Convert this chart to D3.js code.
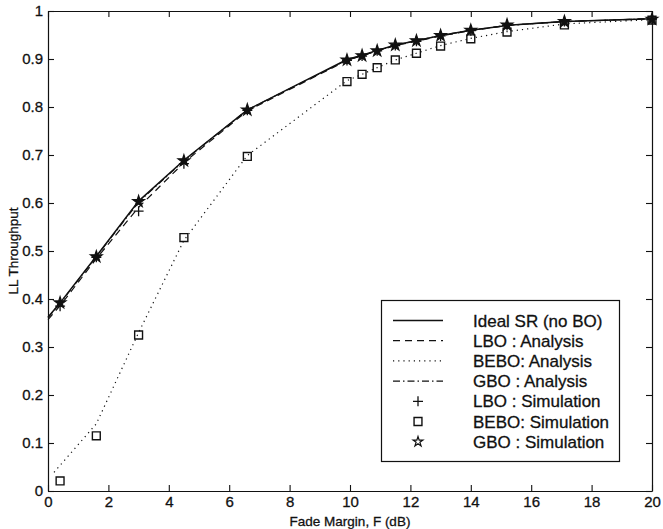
<!DOCTYPE html>
<html>
<head>
<meta charset="utf-8">
<script src="https://cdn.jsdelivr.net/npm/d3@7"></script>
<style>
  body { margin: 0; background: #fff; }
  text { font-family: "Liberation Sans", Arial, sans-serif; fill: #111; stroke: #111; stroke-width: 0.3px; }
</style>
</head>
<body>
<div id="chart"></div>
<script>
// LL throughput vs fade margin, analysis curves + simulation markers

// analysis curves (piecewise, same F grid as the sims plus F=0)
var idealF = [0, 0.4, 1.6, 3, 4.5, 6.6, 9.9, 10.4, 10.9, 11.5, 12.2, 13, 14, 15.2, 17.1, 20];
var idealT = [0.362, 0.392, 0.489, 0.604, 0.689, 0.794, 0.899, 0.908, 0.918, 0.929, 0.938, 0.949, 0.960, 0.970, 0.978, 0.984];

var lboF = [0, 0.4, 1.6, 3, 4.5, 6.6, 9.9, 10.4, 10.9, 11.5, 12.2, 13, 14, 15.2, 17.1, 20];
var lboT = [0.357, 0.386, 0.484, 0.591, 0.684, 0.792, 0.897, 0.907, 0.917, 0.928, 0.937, 0.948, 0.959, 0.970, 0.978, 0.984];

var beboF = [0.2, 1.6, 3, 4.5, 6.6, 9.9, 10.4, 10.9, 11.5, 12.2, 13, 14, 15.2, 17.1, 20];
var beboT = [0.039, 0.14, 0.33, 0.522, 0.699, 0.855, 0.868, 0.882, 0.898, 0.912, 0.928, 0.943, 0.957, 0.973, 0.982];

var gboF = [0, 0.4, 1.6, 3, 4.5, 6.6, 9.9, 10.4, 10.9, 11.5, 12.2, 13, 14, 15.2, 17.1, 20];
var gboT = [0.361, 0.391, 0.488, 0.602, 0.688, 0.794, 0.898, 0.907, 0.917, 0.929, 0.938, 0.949, 0.960, 0.970, 0.978, 0.984];

// simulation points
var simF = [0.4, 1.6, 3, 4.5, 6.6, 9.9, 10.4, 10.9, 11.5, 12.2, 13, 14, 15.2, 17.1, 20];
var lboSim = [0.385, 0.487, 0.583, 0.682, 0.793, 0.897, 0.906, 0.917, 0.928, 0.937, 0.948, 0.959, 0.970, 0.978, 0.983];
var beboSim = [0.021, 0.115, 0.325, 0.528, 0.697, 0.853, 0.868, 0.882, 0.898, 0.912, 0.927, 0.942, 0.956, 0.971, 0.981];
var gboSim = [0.392, 0.488, 0.603, 0.688, 0.794, 0.898, 0.907, 0.917, 0.929, 0.938, 0.949, 0.960, 0.971, 0.978, 0.983];

var xTicks = [0, 2, 4, 6, 8, 10, 12, 14, 16, 18, 20];
var yTicks = [0, 0.1, 0.2, 0.3, 0.4, 0.5, 0.6, 0.7, 0.8, 0.9, 1];

var legendLabels = ["Ideal SR (no BO)", "LBO : Analysis", "BEBO: Analysis", "GBO : Analysis",
                    "LBO : Simulation", "BEBO: Simulation", "GBO : Simulation"];

var width = 663, height = 529;
var margin = {left: 48, right: 11, top: 11, bottom: 38};

var svg = d3.select("#chart").append("svg")
    .attr("width", width)
    .attr("height", height);

var x = d3.scaleLinear().domain([0, 20]).range([margin.left, width - margin.right]);
var y = d3.scaleLinear().domain([0, 1]).range([height - margin.bottom, margin.top]);

var tickLen = 6;

// axes, MATLAB style: ticks pointing in on all four sides
svg.append("g")
    .attr("transform", "translate(0," + y(0) + ")")
    .call(d3.axisBottom(x).tickValues(xTicks).tickSizeInner(-tickLen).tickSizeOuter(0).tickPadding(5).tickFormat(d3.format("d")))
    .call(styleAxis);

svg.append("g")
    .attr("transform", "translate(0," + y(1) + ")")
    .call(d3.axisTop(x).tickValues(xTicks).tickSizeInner(-tickLen).tickSizeOuter(0).tickFormat(""))
    .call(styleAxis);

svg.append("g")
    .attr("transform", "translate(" + x(0) + ",0)")
    .call(d3.axisLeft(y).tickValues(yTicks).tickSizeInner(-tickLen).tickSizeOuter(0).tickPadding(5)
          .tickFormat(function(d) { return d === 0 || d === 1 ? d3.format("d")(d) : d3.format(".1f")(d); }))
    .call(styleAxis);

svg.append("g")
    .attr("transform", "translate(" + x(20) + ",0)")
    .call(d3.axisRight(y).tickValues(yTicks).tickSizeInner(-tickLen).tickSizeOuter(0).tickFormat(""))
    .call(styleAxis);

function styleAxis(g) {
    g.select(".domain").attr("stroke", "#111").attr("stroke-width", 1.2);
    g.selectAll(".tick line").attr("stroke", "#111").attr("stroke-width", 1.1);
    g.selectAll(".tick text").style("font-size", "15px").style("font-family", "Liberation Sans, Arial, sans-serif").attr("fill", "#111");
}

// axis labels
svg.append("text")
    .attr("x", (x(0) + x(20)) / 2)
    .attr("y", 526)
    .attr("text-anchor", "middle")
    .style("font-size", "13.5px")
    .text("Fade Margin, F (dB)");

svg.append("text")
    .attr("transform", "translate(18," + y(0.5) + ") rotate(-90)")
    .attr("text-anchor", "middle")
    .style("font-size", "13.5px")
    .text("LL Throughput");

var line = d3.line()
    .x(function(d) { return x(d[0]); })
    .y(function(d) { return y(d[1]); });

function pairs(fs, ts) { return fs.map(function(f, i) { return [f, ts[i]]; }); }

var curves = [
    {f: idealF, t: idealT, dash: null, w: 1.5},
    {f: lboF, t: lboT, dash: "7,5", w: 1.2},
    {f: beboF, t: beboT, dash: "1.2,4", w: 1.2},
    {f: gboF, t: gboT, dash: "7,3,1.5,3", w: 1.2}
];

svg.selectAll(".curve")
    .data(curves)
  .enter().append("path")
    .attr("class", "curve")
    .attr("d", function(d) { return line(pairs(d.f, d.t)); })
    .attr("fill", "none")
    .attr("stroke", "#111")
    .attr("stroke-width", function(d) { return d.w; })
    .attr("stroke-dasharray", function(d) { return d.dash; });

// markers
var plusPath = function(s) { return "M" + (-s) + ",0H" + s + "M0," + (-s) + "V" + s; };
var starSym = d3.symbol().type(d3.symbolStar).size(42);
var starSmall = d3.symbol().type(d3.symbolStar).size(30);
var squareSym = d3.symbol().type(d3.symbolSquare).size(62);

svg.selectAll(".bebo")
    .data(pairs(simF, beboSim))
  .enter().append("path")
    .attr("class", "bebo")
    .attr("transform", function(d) { return "translate(" + x(d[0]) + "," + y(d[1]) + ")"; })
    .attr("d", squareSym)
    .attr("fill", "none")
    .attr("stroke", "#111")
    .attr("stroke-width", 1.4);

svg.selectAll(".lbo")
    .data(pairs(simF, lboSim))
  .enter().append("path")
    .attr("class", "lbo")
    .attr("transform", function(d) { return "translate(" + x(d[0]) + "," + y(d[1]) + ")"; })
    .attr("d", plusPath(5))
    .attr("fill", "none")
    .attr("stroke", "#111")
    .attr("stroke-width", 1.3);

svg.selectAll(".gbo")
    .data(pairs(simF, gboSim))
  .enter().append("path")
    .attr("class", "gbo")
    .attr("transform", function(d) { return "translate(" + x(d[0]) + "," + y(d[1]) + ")"; })
    .attr("d", starSym)
    .attr("fill", "#111")
    .attr("stroke", "#111")
    .attr("stroke-width", 1.2);

// legend
var lg = svg.append("g");
lg.append("rect")
    .attr("x", 381.5).attr("y", 300.5)
    .attr("width", 238).attr("height", 161)
    .attr("fill", "#fff")
    .attr("stroke", "#111")
    .attr("stroke-width", 1.2);

var legendDash = [null, "7,5", "1.2,4", "7,3,1.5,3"];
var rowY = function(i) { return 320.5 + i * 20.2; };

legendLabels.forEach(function(lbl, i) {
    var yy = rowY(i);
    if (i < 4) {
        lg.append("line")
            .attr("x1", 393).attr("x2", 443)
            .attr("y1", yy).attr("y2", yy)
            .attr("stroke", "#111")
            .attr("stroke-width", i === 0 ? 1.5 : 1.2)
            .attr("stroke-dasharray", legendDash[i]);
    } else if (i === 4) {
        lg.append("path").attr("transform", "translate(418," + yy + ")")
            .attr("d", plusPath(5)).attr("stroke", "#111").attr("stroke-width", 1.3).attr("fill", "none");
    } else if (i === 5) {
        lg.append("path").attr("transform", "translate(418," + yy + ")")
            .attr("d", squareSym).attr("stroke", "#111").attr("stroke-width", 1.4).attr("fill", "none");
    } else {
        lg.append("path").attr("transform", "translate(418," + yy + ")")
            .attr("d", starSmall).attr("stroke", "#111").attr("stroke-width", 1.2).attr("fill", "none");
    }
    lg.append("text")
        .attr("x", 473)
        .attr("y", yy)
        .attr("dy", "0.36em")
        .style("font-size", "17px")
        .text(lbl);
});
</script>
</body>
</html>
